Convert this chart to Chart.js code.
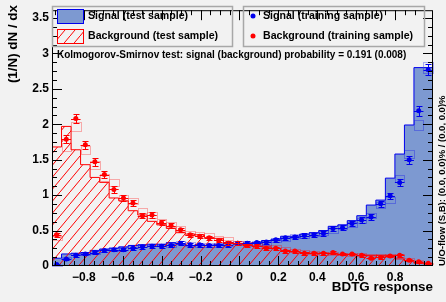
<!DOCTYPE html>
<html>
<head>
<meta charset="utf-8">
<script src="https://cdn.jsdelivr.net/npm/chart.js@4.4.0/dist/chart.umd.min.js"></script>
<style>
  html, body { margin: 0; padding: 0; background: #f2f2f2; }
  #c { display: block; }
</style>
</head>
<body>
<canvas id="c" width="446" height="302"></canvas>
<script>
// binning of the MVA output histograms
const xMin = -0.964, xMax = 0.995, nBins = 40;

// signal / background, test sample (filled histograms)
const sigTest = [0.01,0.11,0.17,0.18,0.19,0.22,0.24,0.25,0.27,0.29,0.30,0.30,0.30,0.33,0.31,0.29,0.30,0.29,0.31,0.33,
                 0.31,0.32,0.33,0.36,0.38,0.42,0.42,0.45,0.47,0.50,0.56,0.58,0.64,0.71,0.86,0.93,1.24,1.58,1.99,2.80];
const bkgTest = [0.39,1.68,1.97,1.64,1.43,1.25,1.18,0.96,0.92,0.78,0.72,0.63,0.58,0.53,0.47,0.45,0.44,0.40,0.39,0.33,
                 0.32,0.30,0.28,0.27,0.25,0.22,0.20,0.19,0.18,0.18,0.17,0.16,0.16,0.15,0.15,0.15,0.15,0.10,0.07,0.04];

// signal / background, training sample (points with errors)
const sigTrain = [0.02,0.10,0.15,0.17,0.19,0.22,0.23,0.23,0.25,0.27,0.28,0.28,0.29,0.32,0.30,0.30,0.29,0.29,0.30,0.32,
                  0.32,0.33,0.34,0.37,0.40,0.41,0.43,0.44,0.46,0.53,0.54,0.60,0.65,0.69,0.88,0.99,1.18,1.50,2.19,2.77];
const bkgTrain = [0.44,1.79,2.08,1.71,1.47,1.29,1.08,0.96,0.89,0.71,0.72,0.61,0.57,0.51,0.44,0.42,0.40,0.36,0.32,0.32,
                  0.29,0.28,0.25,0.25,0.21,0.21,0.18,0.18,0.18,0.19,0.17,0.17,0.15,0.11,0.12,0.14,0.15,0.08,0.06,0.04];
const sigErr = [0.008,0.015,0.018,0.019,0.020,0.021,0.022,0.022,0.023,0.024,0.024,0.024,0.025,0.026,0.025,0.025,0.025,0.025,0.025,0.026,
                0.026,0.026,0.027,0.028,0.029,0.029,0.030,0.030,0.031,0.033,0.034,0.035,0.037,0.038,0.043,0.045,0.049,0.055,0.067,0.075];
const bkgErr = [0.030,0.060,0.065,0.060,0.055,0.052,0.048,0.045,0.043,0.038,0.038,0.035,0.034,0.032,0.030,0.029,0.028,0.027,0.026,0.026,
                0.025,0.024,0.023,0.023,0.021,0.021,0.020,0.020,0.020,0.020,0.019,0.019,0.018,0.015,0.016,0.017,0.018,0.013,0.011,0.009];

// axes
const yMax = 3.61;
const xTicks = [-0.8, -0.6, -0.4, -0.2, 0, 0.2, 0.4, 0.6, 0.8];
const yTicks = [0, 0.5, 1, 1.5, 2, 2.5, 3, 3.5];

const FONT = '"Liberation Sans", Arial, Helvetica, sans-serif';
const SIG_FILL = '#7d99d1', SIG_LINE = '#0000ee', BKG_LINE = '#ff0000';

const canvas = document.getElementById('c');
const mainCtx = canvas.getContext('2d');

// ROOT style "/" hatch for the background histogram
function makeHatch() {
  const t = document.createElement('canvas');
  t.width = 10; t.height = 12;
  const g = t.getContext('2d');
  g.strokeStyle = BKG_LINE;
  g.lineWidth = 1;
  g.beginPath();
  g.moveTo(-1, 13.2);
  g.lineTo(11, -1.2);
  g.stroke();
  return mainCtx.createPattern(t, 'repeat');
}
const hatch = makeHatch();

const binW = (xMax - xMin) / nBins;

function histPoints(vals) {
  const pts = [{x: xMin, y: 0}];
  vals.forEach((v, i) => pts.push({x: xMin + i * binW, y: v}));
  pts.push({x: xMax, y: vals[vals.length - 1]});
  pts.push({x: xMax, y: 0});
  return pts;
}
function centerPoints(vals) {
  return vals.map((v, i) => ({x: xMin + (i + 0.5) * binW, y: v}));
}

const rootStyle = {
  id: 'rootStyle',
  afterDatasetDraw(chart, args) {
    const ds = chart.data.datasets[args.index];
    if (!ds.errBox) return;
    const {ctx, scales: {x, y}} = chart;
    ctx.save();
    ctx.strokeStyle = ds.errBoxColor;
    ctx.lineWidth = 1;
    ds.errBox.vals.forEach((v, i) => {
      const e = ds.errBox.err[i];
      const x0 = Math.round(x.getPixelForValue(xMin + i * binW)) + 0.5;
      const x1 = Math.round(x.getPixelForValue(xMin + (i + 1) * binW)) + 0.5;
      const y0 = Math.round(y.getPixelForValue(v + e)) + 0.5;
      const y1 = Math.round(y.getPixelForValue(Math.max(0, v - e))) + 0.5;
      ctx.strokeRect(x0, y0, x1 - x0, y1 - y0);
    });
    ctx.restore();
  },
  afterDatasetsDraw(chart) {
    const {ctx, scales: {x, y}} = chart;
    ctx.save();
    ctx.lineWidth = 1;
    chart.data.datasets.forEach(ds => {
      if (!ds.errY) return;
      ctx.strokeStyle = ds.backgroundColor;
      ds.data.forEach((p, i) => {
        const px = Math.round(x.getPixelForValue(p.x)) + 0.5;
        const py = Math.round(y.getPixelForValue(p.y)) + 0.5;
        const xl = x.getPixelForValue(p.x - binW / 2);
        const xr = x.getPixelForValue(p.x + binW / 2);
        const yt = Math.round(y.getPixelForValue(p.y + ds.errY[i])) + 0.5;
        const yb = Math.round(y.getPixelForValue(Math.max(0, p.y - ds.errY[i]))) + 0.5;
        ctx.beginPath();
        ctx.moveTo(xl, py); ctx.lineTo(xr, py);
        ctx.moveTo(px, yt); ctx.lineTo(px, yb);
        ctx.moveTo(px - 3, yt); ctx.lineTo(px + 3, yt);
        ctx.moveTo(px - 3, yb); ctx.lineTo(px + 3, yb);
        ctx.stroke();
      });
    });
    ctx.restore();
  },
  afterDraw(chart) {
    const {ctx, chartArea: a, scales: {x, y}} = chart;
    ctx.save();
    // frame
    ctx.strokeStyle = '#000';
    ctx.lineWidth = 1;
    ctx.strokeRect(a.left + 0.5, a.top + 0.5, a.right - a.left - 1, a.bottom - a.top - 1);

    // tick marks on all four sides, pointing inwards
    ctx.beginPath();
    for (let v = -0.95; v < xMax; v += 0.05) {
      const major = Math.abs(Math.round(v * 5) - v * 5) < 1e-6;
      const len = major ? 10 : 5;
      const px = Math.round(x.getPixelForValue(v)) + 0.5;
      if (px <= a.left || px >= a.right) continue;
      ctx.moveTo(px, a.bottom); ctx.lineTo(px, a.bottom - len);
      ctx.moveTo(px, a.top); ctx.lineTo(px, a.top + len);
    }
    for (let v = 0.125; v < yMax; v += 0.125) {
      const major = Math.abs(Math.round(v * 2) - v * 2) < 1e-6;
      const len = major ? 10 : 5;
      const py = Math.round(y.getPixelForValue(v)) + 0.5;
      ctx.moveTo(a.left, py); ctx.lineTo(a.left + len, py);
      ctx.moveTo(a.right, py); ctx.lineTo(a.right - len, py);
    }
    ctx.stroke();

    // legend boxes
    ctx.strokeStyle = '#a8a8a8';
    ctx.lineWidth = 1.5;
    ctx.strokeRect(52.5, 6.5, 180, 40);
    ctx.strokeRect(243.5, 6.5, 181, 40);

    ctx.lineWidth = 1;
    ctx.fillStyle = SIG_FILL;
    ctx.fillRect(57, 9, 26, 14);
    ctx.strokeStyle = SIG_LINE;
    ctx.strokeRect(57.5, 9.5, 26, 14);
    ctx.fillStyle = hatch;
    ctx.fillRect(57, 29, 26, 14);
    ctx.strokeStyle = BKG_LINE;
    ctx.strokeRect(57.5, 29.5, 26, 14);

    ctx.fillStyle = SIG_LINE;
    ctx.beginPath(); ctx.arc(253, 16, 2.5, 0, Math.PI * 2); ctx.fill();
    ctx.fillStyle = BKG_LINE;
    ctx.beginPath(); ctx.arc(253, 36, 2.5, 0, Math.PI * 2); ctx.fill();

    ctx.fillStyle = '#000';
    ctx.textBaseline = 'middle';
    ctx.textAlign = 'left';
    ctx.font = 'bold 10.6px ' + FONT;
    ctx.fillText('Signal (test sample)', 88, 16);
    ctx.fillText('Background (test sample)', 88, 36);
    ctx.fillText('Signal (training sample)', 263, 16);
    ctx.fillText('Background (training sample)', 263, 36);

    ctx.font = 'bold 10px ' + FONT;
    ctx.fillText('Kolmogorov-Smirnov test: signal (background) probability = 0.191 (0.008)', 57, 55);

    // axis titles
    ctx.font = 'bold 13.4px ' + FONT;
    ctx.textAlign = 'right';
    ctx.textBaseline = 'alphabetic';
    ctx.fillText('BDTG response', 433, 291);

    ctx.save();
    ctx.translate(17, 5);
    ctx.rotate(-Math.PI / 2);
    ctx.fillText('(1/N) dN / dx', 0, 0);
    ctx.restore();

    ctx.save();
    ctx.translate(445, 266);
    ctx.rotate(-Math.PI / 2);
    ctx.textAlign = 'left';
    ctx.font = 'bold 9.5px ' + FONT;
    ctx.fillText('U/O-flow (S,B): (0.0, 0.0)% / (0.0, 0.0)%', 0, 0);
    ctx.restore();

    ctx.restore();
  }
};

const fmt = v => v === 0 ? '0' : (v < 0 ? '\u2212' + Math.abs(v) : String(v));

new Chart(canvas, {
  type: 'line',
  data: {
    datasets: [
      {
        label: 'Signal (training sample)',
        data: centerPoints(sigTrain),
        errY: sigErr,
        showLine: false,
        pointRadius: 2.5,
        pointBorderWidth: 0,
        backgroundColor: SIG_LINE,
        borderColor: SIG_LINE,
        order: 1
      },
      {
        label: 'Background (training sample)',
        data: centerPoints(bkgTrain),
        errY: bkgErr,
        showLine: false,
        pointRadius: 2.5,
        pointBorderWidth: 0,
        backgroundColor: BKG_LINE,
        borderColor: BKG_LINE,
        order: 2
      },
      {
        label: 'Background (test sample)',
        data: histPoints(bkgTest),
        errBox: {vals: bkgTest, err: bkgErr},
        errBoxColor: 'rgba(255,0,0,0.3)',
        stepped: 'after',
        fill: 'origin',
        backgroundColor: hatch,
        borderColor: BKG_LINE,
        borderWidth: 1,
        pointRadius: 0,
        order: 3
      },
      {
        label: 'Signal (test sample)',
        data: histPoints(sigTest),
        errBox: {vals: sigTest, err: sigErr},
        errBoxColor: 'rgba(0,0,238,0.3)',
        stepped: 'after',
        fill: 'origin',
        backgroundColor: SIG_FILL,
        borderColor: SIG_LINE,
        borderWidth: 1,
        pointRadius: 0,
        order: 4
      }
    ]
  },
  options: {
    responsive: false,
    animation: false,
    devicePixelRatio: 1,
    layout: { padding: { top: 6, right: 13, left: 0, bottom: 0 } },
    plugins: { legend: { display: false }, tooltip: { enabled: false } },
    scales: {
      x: {
        type: 'linear',
        min: xMin,
        max: xMax,
        afterFit: s => { s.height = 36; },
        afterBuildTicks: s => { s.ticks = xTicks.map(v => ({value: v})); },
        grid: { display: false, drawTicks: false },
        border: { display: false },
        ticks: {
          autoSkip: false,
          maxRotation: 0,
          padding: 4,
          color: '#000',
          font: { family: FONT, size: 12, weight: 'bold' },
          callback: v => fmt(v)
        }
      },
      y: {
        type: 'linear',
        min: 0,
        max: yMax,
        afterFit: s => { s.width = 52; },
        afterBuildTicks: s => { s.ticks = yTicks.map(v => ({value: v})); },
        grid: { display: false, drawTicks: false },
        border: { display: false },
        ticks: {
          padding: 3,
          color: '#000',
          font: { family: FONT, size: 12, weight: 'bold' },
          callback: v => fmt(v)
        }
      }
    }
  },
  plugins: [rootStyle]
});
</script>
</body>
</html>
